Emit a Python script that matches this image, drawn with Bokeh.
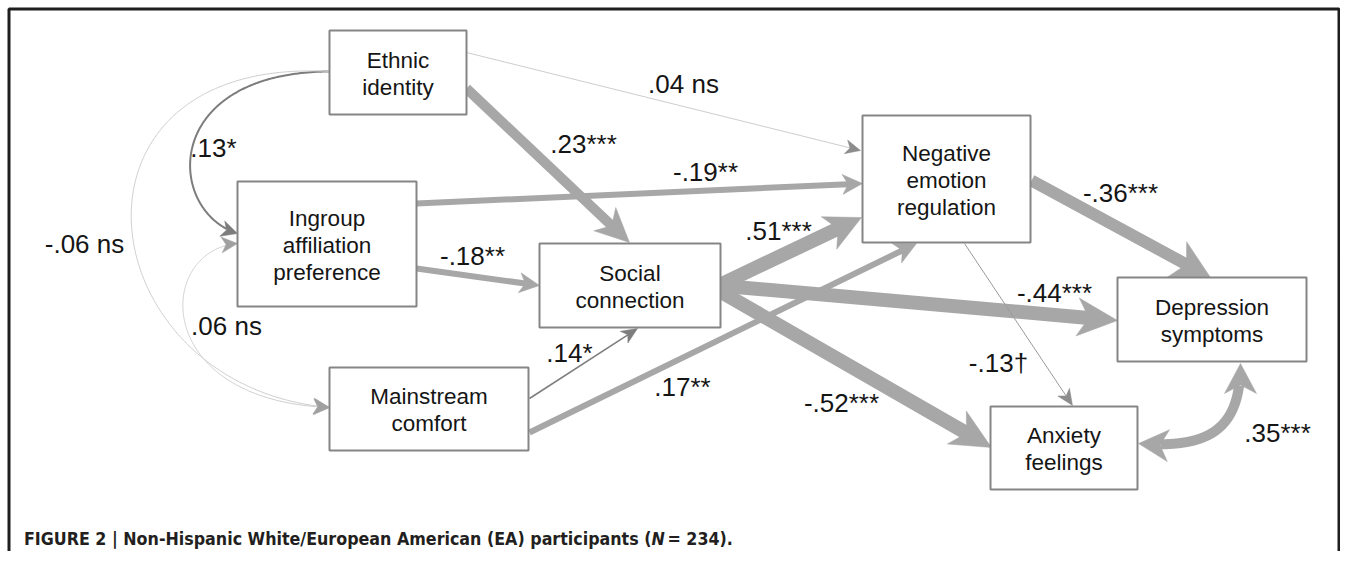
import numpy as np
from bokeh.plotting import figure
from bokeh.models import Range1d
from bokeh.core.properties import value
from bokeh.embed import file_html
from bokeh.resources import INLINE

# ---------------- data ----------------
node_keys = ["ethnic", "ingroup", "social", "mainstream", "negative", "depression", "anxiety"]
node_labels = ["Ethnic\nidentity", "Ingroup\naffiliation\npreference", "Social\nconnection",
               "Mainstream\ncomfort", "Negative\nemotion\nregulation", "Depression\nsymptoms",
               "Anxiety\nfeelings"]

path_from = ["ethnic", "ethnic", "ingroup", "ingroup", "mainstream", "mainstream",
             "social", "social", "social", "negative", "negative"]
path_to = ["negative", "social", "negative", "social", "social", "negative",
           "negative", "depression", "anxiety", "depression", "anxiety"]
path_coef = [0.04, 0.23, -0.19, -0.18, 0.14, 0.17, 0.51, -0.44, -0.52, -0.36, -0.13]
path_labels = [".04 ns", ".23***", "-.19**", "-.18**", ".14*", ".17**",
               ".51***", "-.44***", "-.52***", "-.36***", "-.13\u2020"]

cov_a = ["ethnic", "ethnic", "ingroup", "depression"]
cov_b = ["ingroup", "mainstream", "mainstream", "anxiety"]
cov_coef = [0.13, -0.06, 0.06, 0.35]
cov_labels = [".13*", "-.06 ns", ".06 ns", ".35***"]

caption_main = "FIGURE 2 | Non-Hispanic White/European American (EA) participants ("
caption_n = "N"
caption_end = " = 234)."

# ---------------- layout (screen pixels) ----------------
boxes = {
    "ethnic": (329, 30, 466, 114),
    "ingroup": (237, 181, 416, 306),
    "social": (539, 243, 720, 327),
    "mainstream": (329, 367, 528, 450),
    "negative": (862, 115, 1030, 242),
    "depression": (1117, 277, 1306, 361),
    "anxiety": (990, 406, 1137, 489),
}

THICK = "#a7a7a7"
MID = "#7d7d7d"
LIGHT = "#cdcdcd"
HEADMID = "#8c8c8c"

# start, tip, width, line colour, head colour, head length, head half width, label pos
path_geom = [
    ((466, 52), (860, 150), 1.0, LIGHT, HEADMID, 15, 7, (683, 83)),
    ((466, 88), (629, 242), 10, THICK, THICK, 34, 16, (583, 143)),
    ((416, 203), (862, 183), 6, THICK, THICK, 20, 10, (705, 171)),
    ((416, 268), (539, 285), 6, THICK, THICK, 20, 10, (472, 255)),
    ((529, 398), (637, 328), 1.5, MID, MID, 16, 7, (569, 352)),
    ((529, 432), (916, 243), 6, THICK, THICK, 22, 11, (682, 386)),
    ((718, 285), (861, 217), 14, THICK, THICK, 36, 18, (778, 230)),
    ((718, 285), (1117, 320), 14, THICK, THICK, 40, 19, (1054, 292)),
    ((718, 290), (991, 447), 14, THICK, THICK, 40, 19, (841, 402)),
    ((1031, 180), (1210, 277), 12, THICK, THICK, 38, 20, (1120, 192)),
    ((964, 243), (1072, 405), 1.0, "#9a9a9a", HEADMID, 16, 7, (998, 362)),
]

# bezier P0, C0, C1, P1, width, colour, head colour, head at start?, head at end?, L, W, label pos
cov_geom = [
    ((329, 71), (160, 72), (165, 210), (237, 233), 2.0, MID, MID, False, True, 16, 8, (213, 147)),
    ((329, 71), (45, 55), (85, 385), (329, 407), 1.0, LIGHT, "#a0a0a0", False, True, 16, 8, (84, 243)),
    ((237, 243), (155, 250), (150, 400), (329, 407), 1.0, LIGHT, "#a0a0a0", True, True, 16, 8, (226, 325)),
    ((1240, 363), (1240, 430), (1208, 448), (1138, 443), 10, THICK, THICK, True, True, 30, 16, (1277, 432)),
]

W, H = 1340, 551
p = figure(width=W, height=H, x_range=Range1d(0, W), y_range=Range1d(H, 0),
           output_backend="svg", toolbar_location=None, min_border=0,
           x_axis_location=None, y_axis_location=None)
p.grid.visible = False
p.outline_line_color = None
p.background_fill_color = "white"
p.border_fill_color = "white"


def head(tip, d, L, Wd):
    d = np.asarray(d, float)
    d = d / np.hypot(*d)
    n = np.array([-d[1], d[0]])
    t = np.asarray(tip, float)
    pts = [t, t - d * L + n * Wd, t - d * L * 0.72, t - d * L - n * Wd]
    return [q[0] for q in pts], [q[1] for q in pts]


# straight paths
for (s, t, w, lc, hc, L, Wd, lab), txt in zip(path_geom, path_labels):
    s = np.array(s, float)
    t = np.array(t, float)
    d = (t - s) / np.hypot(*(t - s))
    e = t - d * L * 0.72
    p.line([s[0], e[0]], [s[1], e[1]], line_width=w, line_color=lc)
    hx, hy = head(t, d, L, Wd)
    p.patch(hx, hy, fill_color=hc, line_color=hc, line_width=0.5)

# curved covariances
for (P0, C0, C1, P1, w, lc, hc, hs, he, L, Wd, lab) in cov_geom:
    P0, C0, C1, P1 = (np.array(v, float) for v in (P0, C0, C1, P1))
    tt = np.linspace(0, 1, 300)[:, None]
    B = ((1 - tt) ** 3) * P0 + 3 * ((1 - tt) ** 2) * tt * C0 + 3 * (1 - tt) * tt ** 2 * C1 + tt ** 3 * P1
    keep = np.ones(len(B), bool)
    if hs:
        keep &= np.hypot(*(B - P0).T) >= L * 0.72
    if he:
        keep &= np.hypot(*(B - P1).T) >= L * 0.72
    Bk = B[keep]
    p.line(Bk[:, 0], Bk[:, 1], line_width=w, line_color=lc, line_join="round")
    if he:
        hx, hy = head(P1, P1 - C1, L, Wd)
        p.patch(hx, hy, fill_color=hc, line_color=hc, line_width=0.5)
    if hs:
        hx, hy = head(P0, P0 - C0, L, Wd)
        p.patch(hx, hy, fill_color=hc, line_color=hc, line_width=0.5)

# boxes
left = [boxes[k][0] for k in node_keys]
top = [boxes[k][1] for k in node_keys]
right = [boxes[k][2] for k in node_keys]
bottom = [boxes[k][3] for k in node_keys]
p.quad(left=left, right=right, top=top, bottom=bottom, fill_color="white",
       line_color="#858585", line_width=2)
cx = [(a + b) / 2 for a, b in zip(left, right)]
cy = [(a + b) / 2 + 1 for a, b in zip(top, bottom)]
p.text(cx, cy, text=node_labels, text_align="center", text_baseline="middle",
       text_font=value("Liberation Sans"), text_font_size="22.5px", text_color="#151515",
       text_line_height=1.08)

# coefficient labels
lx = [g[7][0] for g in path_geom] + [g[11][0] for g in cov_geom]
ly = [g[7][1] for g in path_geom] + [g[11][1] for g in cov_geom]
p.text(lx, ly, text=path_labels + cov_labels, text_align="center", text_baseline="middle",
       text_font=value("Liberation Sans"), text_font_size="26px", text_color="#151515")

# frame lines (left, top, right)
p.line([8.5, 8.5, 1338.5, 1338.5], [560, 8.5, 8.5, 560], line_width=3, line_color="#1e1e1e")

# caption
cap_font = value("DejaVu Sans Condensed")
cap_y = 538
p.text([651], [cap_y], text=[caption_main], text_align="right", text_baseline="middle",
       text_font=cap_font, text_font_size="17.7px", text_font_style="bold", text_color="#231f20")
p.text([651], [cap_y], text=[caption_n], text_align="left", text_baseline="middle",
       text_font=cap_font, text_font_size="17.7px", text_font_style="bold italic", text_color="#231f20")
p.text([667], [cap_y], text=[caption_end], text_align="left", text_baseline="middle",
       text_font=cap_font, text_font_size="17.7px", text_font_style="bold", text_color="#231f20")

open("out.html", "w").write(file_html(p, INLINE))
